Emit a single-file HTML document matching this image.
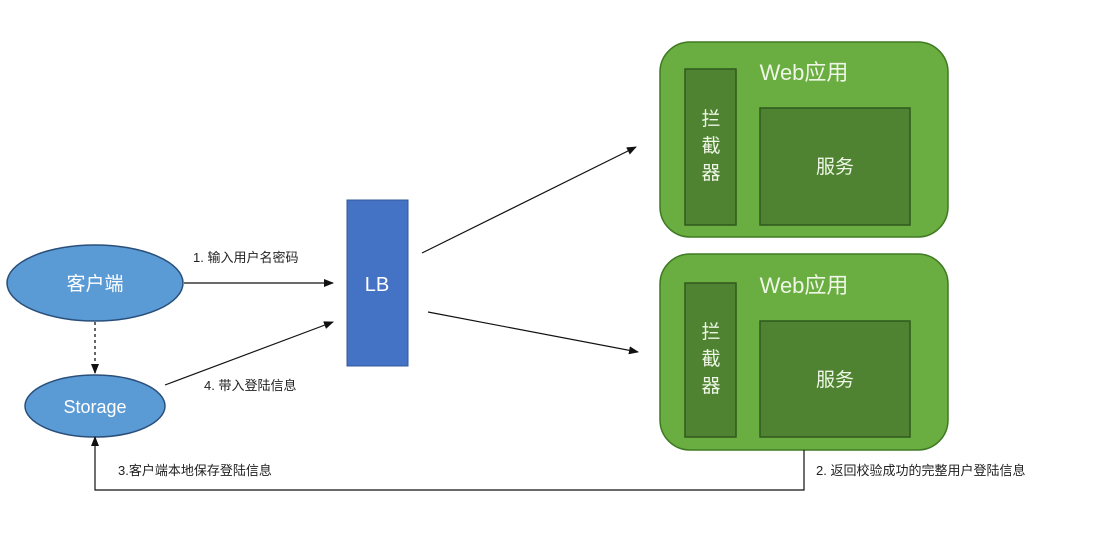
<!DOCTYPE html>
<html><head><meta charset="utf-8"><style>
html,body{margin:0;padding:0;background:#fff;}
svg text{font-family:"Liberation Sans","Noto Sans CJK SC",sans-serif;}
</style></head><body>
<svg width="1107" height="538" viewBox="0 0 1107 538" xmlns="http://www.w3.org/2000/svg">
<defs><marker id="a" markerWidth="10" markerHeight="8" refX="9" refY="4" orient="auto" markerUnits="userSpaceOnUse"><path d="M0,0 L10,4 L0,8 z" fill="#111"/></marker></defs>
<rect width="1107" height="538" fill="#fff"/>
<!-- green boxes -->
<rect x="660" y="42" width="288" height="195" rx="30" fill="#6aad40" stroke="#3f7a22" stroke-width="1.5"/>
<rect x="685" y="69" width="51" height="156" fill="#4f8332" stroke="#2f5a1c" stroke-width="1.5"/>
<rect x="760" y="108" width="150" height="117" fill="#4f8332" stroke="#2f5a1c" stroke-width="1.5"/>
<text x="804" y="80" font-size="22" fill="#eef6e6" text-anchor="middle">Web应用</text>
<text x="711" y="125" font-size="19" fill="#eef6e6" text-anchor="middle">拦</text>
<text x="711" y="152" font-size="19" fill="#eef6e6" text-anchor="middle">截</text>
<text x="711" y="179" font-size="19" fill="#eef6e6" text-anchor="middle">器</text>
<text x="835" y="173" font-size="19" fill="#eef6e6" text-anchor="middle">服务</text>

<rect x="660" y="254" width="288" height="196" rx="30" fill="#6aad40" stroke="#3f7a22" stroke-width="1.5"/>
<rect x="685" y="283" width="51" height="154" fill="#4f8332" stroke="#2f5a1c" stroke-width="1.5"/>
<rect x="760" y="321" width="150" height="116" fill="#4f8332" stroke="#2f5a1c" stroke-width="1.5"/>
<text x="804" y="293" font-size="22" fill="#eef6e6" text-anchor="middle">Web应用</text>
<text x="711" y="338" font-size="19" fill="#eef6e6" text-anchor="middle">拦</text>
<text x="711" y="365" font-size="19" fill="#eef6e6" text-anchor="middle">截</text>
<text x="711" y="392" font-size="19" fill="#eef6e6" text-anchor="middle">器</text>
<text x="835" y="386" font-size="19" fill="#eef6e6" text-anchor="middle">服务</text>

<!-- LB -->
<rect x="347" y="200" width="61" height="166" fill="#4472c4" stroke="#35589a"/>
<text x="377" y="291" font-size="20" fill="#fff" text-anchor="middle">LB</text>

<!-- ellipses -->
<ellipse cx="95" cy="283" rx="88" ry="38" fill="#5b9bd5" stroke="#2a4f7a" stroke-width="1.5"/>
<text x="95" y="290" font-size="19" fill="#fff" text-anchor="middle">客户端</text>
<ellipse cx="95" cy="406" rx="70" ry="31" fill="#5b9bd5" stroke="#2a4f7a" stroke-width="1.5"/>
<text x="95" y="413" font-size="18" fill="#fff" text-anchor="middle">Storage</text>

<!-- connectors -->
<line x1="95" y1="322" x2="95" y2="373" stroke="#333" stroke-width="1.5" stroke-dasharray="3,3" marker-end="url(#a)"/>
<line x1="184" y1="283" x2="333" y2="283" stroke="#111" stroke-width="1.2" marker-end="url(#a)"/>
<line x1="165" y1="385" x2="333" y2="322" stroke="#111" stroke-width="1.2" marker-end="url(#a)"/>
<line x1="422" y1="253" x2="636" y2="147" stroke="#111" stroke-width="1.2" marker-end="url(#a)"/>
<line x1="428" y1="312" x2="638" y2="352" stroke="#111" stroke-width="1.2" marker-end="url(#a)"/>
<polyline points="804,450 804,490 95,490 95,437" fill="none" stroke="#111" stroke-width="1.2" marker-end="url(#a)"/>

<text x="193" y="262" font-size="13" fill="#222">1. 输入用户名密码</text>
<text x="204" y="390" font-size="13" fill="#222">4. 带入登陆信息</text>
<text x="118" y="475" font-size="13" fill="#222">3.客户端本地保存登陆信息</text>
<text x="816" y="475" font-size="13" fill="#222">2. 返回校验成功的完整用户登陆信息</text>
</svg>
</body></html>
